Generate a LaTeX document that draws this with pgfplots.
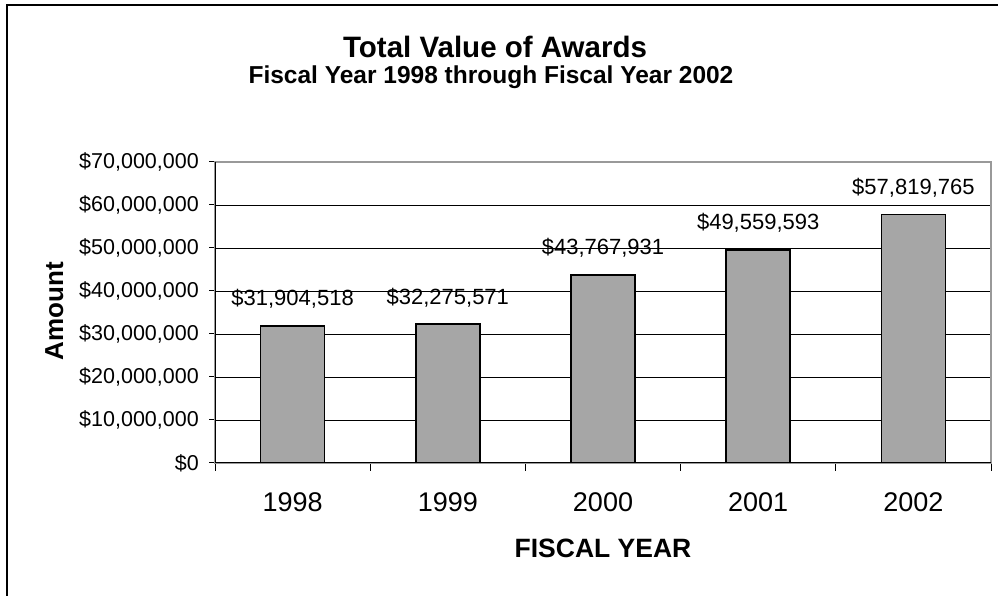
\documentclass[border=0pt]{standalone}
\usepackage{pgfplots}
\pgfplotsset{compat=1.18}
\usepackage{fontspec}
\setmainfont{Liberation Sans}
\definecolor{barfill}{HTML}{A6A6A6}
\begin{document}
\begin{tikzpicture}[x=1bp,y=1bp]
\useasboundingbox (0,0) rectangle (998,596);
\draw[line width=1.5bp] (7,-2) -- (7,591) -- (1000,591);
\node[anchor=base, inner sep=0pt, font=\bfseries\fontsize{29.5bp}{31bp}\selectfont] at (495,538) {Total Value of Awards};
\node[anchor=base, inner sep=0pt, font=\bfseries\fontsize{24.5bp}{26bp}\selectfont] at (491,512) {Fiscal Year 1998 through Fiscal Year 2002};
\node[anchor=base, inner sep=0pt, rotate=90, font=\bfseries\fontsize{26bp}{28bp}\selectfont] at (63,285) {Amount};
\begin{axis}[
  at={(215bp,133bp)}, anchor=south west,
  scale only axis, width=776bp, height=301bp,
  xmin=-0.5, xmax=4.5, ymin=0, ymax=70000000,
  /pgf/number format/assume math mode=true,
  scaled y ticks=false,
  xtick={0,1,2,3,4}, xticklabels={1998,1999,2000,2001,2002},
  minor xtick={-0.5,0.5,1.5,2.5,3.5,4.5},
  ytick={0,10000000,20000000,30000000,40000000,50000000,60000000,70000000},
  yticklabels={{\$0},{\$10,000,000},{\$20,000,000},{\$30,000,000},{\$40,000,000},{\$50,000,000},{\$60,000,000},{\$70,000,000}},
  tick pos=left, tick align=outside,
  major tick length=6bp, minor tick length=8bp,
  major x tick style={draw=none},
  minor x tick style={black, line width=1bp},
  major y tick style={black, line width=1bp},
  ymajorgrids, major grid style={black, line width=0.8bp},
  axis line style={draw=gray!80, line width=1.2bp},
  yticklabel style={font=\fontsize{21.5bp}{23bp}\selectfont, anchor=east, inner sep=0pt, xshift=-10bp},
  xticklabel style={font=\fontsize{27bp}{29bp}\selectfont, anchor=base, inner sep=0pt, yshift=-43bp},
  xlabel={FISCAL YEAR},
  xlabel style={at={(rel axis cs:0.5,0)}, anchor=base, inner sep=0pt, yshift=-95bp, font=\bfseries\fontsize{26.5bp}{28bp}\selectfont},
  ybar, bar width=64bp,
  point meta=explicit symbolic,
  nodes near coords,
  nodes near coords style={font=\fontsize{22bp}{24bp}\selectfont, anchor=base, inner sep=0pt, yshift=20bp},
]
\addplot[fill=barfill, draw=black, line width=1.5bp] coordinates {
  (0,31904518) [\$31,904,518]
  (1,32275571) [\$32,275,571]
  (2,43767931) [\$43,767,931]
  (3,49559593) [\$49,559,593]
  (4,57819765) [\$57,819,765]
};
\draw[black, line width=1.4bp] (rel axis cs:0,1) -- (rel axis cs:0,0) -- (rel axis cs:1,0);
\end{axis}
\end{tikzpicture}
\end{document}
